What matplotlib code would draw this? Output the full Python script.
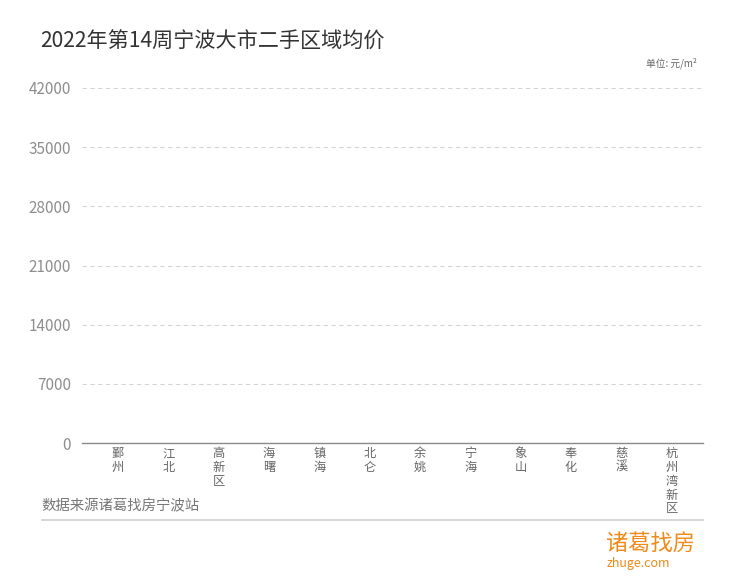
import matplotlib
matplotlib.use("Agg")
import matplotlib.pyplot as plt
from matplotlib.ticker import FixedLocator

plt.rcParams['font.family'] = ['Noto Sans CJK SC', 'DejaVu Sans']

categories = ["鄞州", "江北", "高新区", "海曙", "镇海", "北仑", "余姚", "宁海", "象山", "奉化", "慈溪", "杭州湾新区"]
values = [3.2, 2.6, 2.9, 2.8, 2.3, 2.1, 1.6, 1.4, 1.7, 1.8, 1.6, 1.1]
bar_colors = ["#f4b6b0", "#c9d8ea", "#d6e6c9", "#cfe3f0", "#e4d8ef", "#b9c9ec",
              "#cdeee9", "#f2d7b9", "#d9d9d9", "#e8c7d6", "#d3e8d0", "#f0c9c1"]
yticks = [0, 7000, 14000, 21000, 28000, 35000, 42000]

fig = plt.figure(figsize=(7.4, 5.82), dpi=100)
ax = fig.add_axes([82/740, 1-443/582, (703-82)/740, (443-88)/582])

x = list(range(len(categories)))
ax.bar(x, values, width=0.4, color=bar_colors, zorder=2)

ax.set_ylim(0, 42000)
ax.set_xlim(-0.715, 11.62)
ax.yaxis.set_major_locator(FixedLocator(yticks))
ax.set_yticklabels([str(v) for v in yticks], color="#8e8e8e", fontsize=11,
                   fontweight='light')
ax.tick_params(axis='y', length=0, pad=8)
ax.tick_params(axis='x', length=0, pad=3)
ax.set_xticks(x)
ax.set_xticklabels(["\n".join(c) for c in categories], color="#666666", fontsize=8.8,
                   linespacing=1.08, va='top')
ax.grid(axis='y', color="#d5d5d5", linestyle=(0, (4, 3)), linewidth=0.8, zorder=0)
for s in ["top", "right", "left"]:
    ax.spines[s].set_visible(False)
ax.spines["bottom"].set_color("#8a8a8a")
ax.spines["bottom"].set_linewidth(1.0)
ax.spines["bottom"].set_zorder(3)

fig.text(40/740, 1-42/582, "2022年第14周宁波大市二手区域均价", fontsize=15.2,
         color="#333333", va='center', ha='left')
fig.text(697/740, 1-63/582, "单位: 元/m²", fontsize=7, color="#666666",
         va='center', ha='right')
fig.text(41/740, 1-506/582, "数据来源诸葛找房宁波站", fontsize=10.4, color="#777777",
         va='center', ha='left')
fig.add_artist(plt.Line2D([42/740, 703/740], [1-520/582, 1-520/582],
                          color="#d0d0d0", linewidth=1.2))

# logo
fig.text(606/740, 1-543/582, "诸葛找房", fontsize=16, color="#f08a1a",
         va='center', ha='left')
fig.text(607/740, 1-564/582, "zhuge.com", fontsize=9, color="#f08a1a",
         va='center', ha='left')

fig.savefig("out.png", dpi=100, facecolor="white")
